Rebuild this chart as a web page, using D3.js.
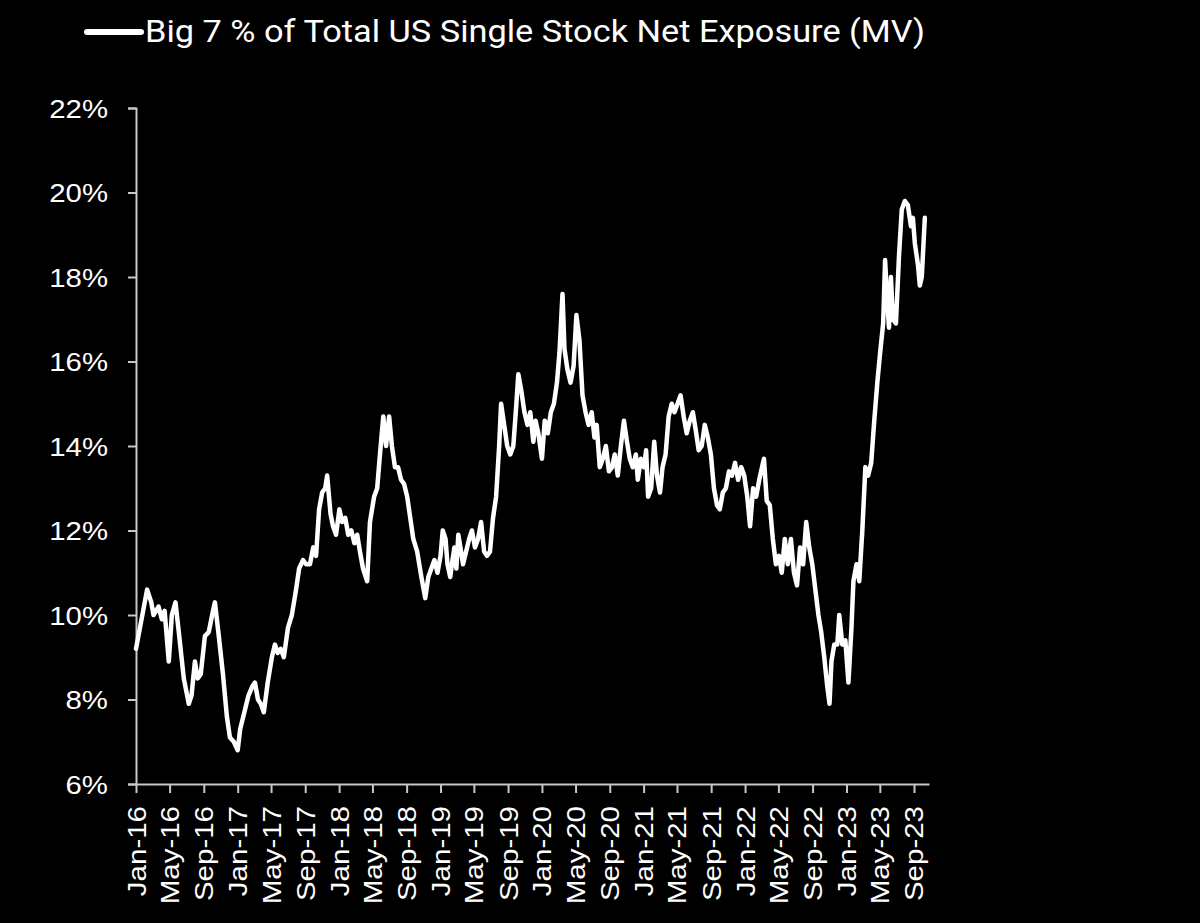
<!DOCTYPE html>
<html>
<head>
<meta charset="utf-8">
<script src="https://cdn.jsdelivr.net/npm/d3@7"></script>
<style>
  html, body { margin: 0; padding: 0; background: #000; }
  svg { display: block; }
</style>
</head>
<body>
<svg id="chart" width="1200" height="923"></svg>
<script>
const seriesName = "Big 7 % of Total US Single Stock Net Exposure (MV)";
const dates = [
"2016-01-01","2016-02-10","2016-02-25","2016-03-04","2016-03-22","2016-04-03","2016-04-13","2016-04-28","2016-05-09","2016-05-22",
"2016-06-03","2016-06-21","2016-07-09","2016-07-19","2016-07-31","2016-08-10","2016-08-21","2016-09-05","2016-09-19","2016-10-01",
"2016-10-11","2016-10-25","2016-11-09","2016-11-23","2016-12-04","2016-12-18","2017-01-01","2017-01-10","2017-01-25","2017-02-09",
"2017-02-22","2017-03-04","2017-03-15","2017-03-25","2017-04-05","2017-04-19","2017-05-04","2017-05-15","2017-05-25","2017-06-05",
"2017-06-16","2017-07-01","2017-07-15","2017-07-30","2017-08-10","2017-08-24","2017-09-04","2017-09-18","2017-09-30","2017-10-10",
"2017-10-21","2017-11-01","2017-11-12","2017-11-19","2017-12-01","2017-12-10","2017-12-21","2018-01-02","2018-01-12","2018-01-23",
"2018-02-03","2018-02-14","2018-02-25","2018-03-07","2018-03-17","2018-03-28","2018-04-12","2018-04-22","2018-05-07","2018-05-18",
"2018-05-28","2018-06-09","2018-06-19","2018-06-30","2018-07-10","2018-07-21","2018-08-01","2018-08-12","2018-08-23","2018-09-03",
"2018-09-14","2018-09-25","2018-10-09","2018-10-24","2018-11-07","2018-11-18","2018-11-29","2018-12-10","2018-12-21","2019-01-01",
"2019-01-09","2019-01-19","2019-01-26","2019-02-05","2019-02-13","2019-02-20","2019-02-27","2019-03-06","2019-03-16","2019-03-23",
"2019-04-03","2019-04-14","2019-04-24","2019-05-05","2019-05-16","2019-05-27","2019-06-07","2019-06-17","2019-06-28","2019-07-09",
"2019-07-20","2019-07-31","2019-08-07","2019-08-18","2019-08-29","2019-09-09","2019-09-20","2019-10-01","2019-10-08","2019-10-19",
"2019-10-30","2019-11-10","2019-11-20","2019-12-01","2019-12-09","2019-12-19","2020-01-01","2020-01-11","2020-01-22","2020-02-02",
"2020-02-13","2020-02-24","2020-03-04","2020-03-15","2020-03-22","2020-04-02","2020-04-13","2020-04-24","2020-05-04","2020-05-15",
"2020-05-26","2020-06-06","2020-06-17","2020-06-28","2020-07-08","2020-07-16","2020-07-27","2020-08-07","2020-08-18","2020-08-29",
"2020-09-09","2020-09-19","2020-09-30","2020-10-11","2020-10-22","2020-11-02","2020-11-12","2020-11-23","2020-12-04","2020-12-11",
"2020-12-22","2021-01-02","2021-01-10","2021-01-17","2021-01-28","2021-02-08","2021-02-18","2021-03-01","2021-03-10","2021-03-21",
"2021-04-01","2021-04-12","2021-04-22","2021-05-03","2021-05-14","2021-05-25","2021-06-05","2021-06-16","2021-06-27","2021-07-07",
"2021-07-18","2021-07-29","2021-08-09","2021-08-20","2021-08-31","2021-09-11","2021-09-22","2021-10-02","2021-10-13","2021-10-24",
"2021-11-04","2021-11-15","2021-11-26","2021-12-07","2021-12-18","2021-12-29","2022-01-09","2022-01-19","2022-01-30","2022-02-10",
"2022-02-21","2022-03-03","2022-03-10","2022-03-20","2022-03-31","2022-04-11","2022-04-22","2022-05-03","2022-05-13","2022-05-24",
"2022-06-04","2022-06-15","2022-06-26","2022-07-07","2022-07-18","2022-07-29","2022-08-09","2022-08-20","2022-08-31","2022-09-11",
"2022-09-22","2022-10-02","2022-10-13","2022-10-24","2022-11-01","2022-11-08","2022-11-18","2022-11-29","2022-12-06","2022-12-17",
"2022-12-28","2023-01-08","2023-01-19","2023-01-26","2023-02-06","2023-02-16","2023-02-27","2023-03-10","2023-03-20","2023-03-31",
"2023-04-11","2023-04-22","2023-05-02","2023-05-13","2023-05-20","2023-05-27","2023-06-03","2023-06-10","2023-06-17","2023-06-28",
"2023-07-09","2023-07-19","2023-07-30","2023-08-10","2023-08-21","2023-08-28","2023-09-04","2023-09-15","2023-09-22","2023-09-29",
"2023-10-10"
];
const values = [
9.2,10.6,10.3,10.0,10.2,9.9,10.1,8.9,10.0,10.3,
9.6,8.5,7.9,8.1,8.9,8.5,8.6,9.5,9.6,10.0,
10.3,9.5,8.6,7.6,7.1,7.0,6.8,7.3,7.7,8.1,
8.3,8.4,8.0,7.9,7.7,8.4,9.0,9.3,9.1,9.2,
9.0,9.7,10.0,10.6,11.1,11.3,11.2,11.2,11.6,11.4,
12.5,12.9,13.0,13.3,12.4,12.1,11.9,12.5,12.2,12.3,
11.9,12.0,11.7,11.9,11.5,11.1,10.8,12.2,12.8,13.0,
13.8,14.7,14.0,14.7,14.0,13.5,13.5,13.2,13.1,12.8,
12.3,11.8,11.5,10.9,10.4,10.9,11.1,11.3,11.0,11.4,
12.0,11.8,11.2,10.9,11.3,11.6,11.1,11.9,11.5,11.2,
11.5,11.8,12.0,11.6,11.8,12.2,11.5,11.4,11.5,12.3,
12.8,14.0,15.0,14.5,14.0,13.8,14.0,15.0,15.7,15.3,
14.8,14.5,14.8,14.1,14.6,14.3,13.7,14.6,14.3,14.8,
15.0,15.5,16.2,17.6,16.3,15.8,15.5,15.9,17.1,16.5,
15.2,14.8,14.5,14.8,14.2,14.5,13.5,13.7,14.0,13.4,
13.5,13.8,13.3,14.0,14.6,14.1,13.7,13.5,13.8,13.2,
13.7,13.5,13.9,12.8,13.0,14.1,13.3,12.9,13.5,13.8,
14.7,15.0,14.8,15.0,15.2,14.7,14.3,14.6,14.8,14.4,
13.9,14.0,14.5,14.2,13.8,13.0,12.6,12.5,12.9,13.0,
13.4,13.3,13.6,13.2,13.5,13.3,12.8,12.1,13.0,12.8,
13.2,13.5,13.7,12.7,12.6,11.8,11.2,11.4,11.0,11.8,
11.2,11.8,11.0,10.7,11.6,11.2,12.2,11.6,11.2,10.6,
10.0,9.6,9.0,8.3,7.9,8.9,9.3,9.3,10.0,9.3,
9.4,8.4,9.7,10.8,11.2,10.8,12.0,13.5,13.3,13.6,
14.6,15.5,16.2,16.9,18.4,17.5,16.8,18.0,17.0,16.9,
18.5,19.6,19.8,19.7,19.2,19.4,18.8,18.3,17.8,18.0,
19.4
];
const yTicks = [6, 8, 10, 12, 14, 16, 18, 20, 22];
const xStart = "2016-01-01";
const xEnd = "2023-10-25";

const parse = d3.timeParse("%Y-%m-%d");
const data = dates.map((d, i) => ({ date: parse(d), value: values[i] }));

const svg = d3.select("#chart");
const mLeft = 136, mRight = 929, mTop = 108, mBottom = 784;

const x = d3.scaleTime().domain([parse(xStart), parse(xEnd)]).range([mLeft, mRight]);
const y = d3.scaleLinear().domain([6, 22]).range([mBottom, mTop]);

const axisColor = "#c8c8c8";
const titleFont = "Roboto, 'Liberation Sans', Arial, sans-serif";
const tickFont = "'Liberation Sans', Arial, sans-serif";

// Y axis
const yStretch = 1.13;
const yAxis = svg.append("g")
  .attr("transform", `translate(${mLeft},0)`)
  .call(d3.axisLeft(y).tickValues(yTicks).tickFormat(d => d + "%").tickSize(8));
yAxis.select(".domain").attr("stroke", axisColor).attr("stroke-width", 2);
yAxis.selectAll(".tick line").attr("stroke", axisColor).attr("stroke-width", 2);
yAxis.selectAll(".tick text").attr("fill", "#fff").attr("font-size", 26).attr("font-family", tickFont)
  .attr("x", 0).attr("dy", "0.36em")
  .attr("transform", `translate(-28,0) scale(${yStretch},1)`);

// X axis
const xStretch = 1.18;
const xTicks = d3.timeMonth.every(4).range(parse(xStart), parse(xEnd));
const xAxis = svg.append("g")
  .attr("transform", `translate(0,${mBottom})`)
  .call(d3.axisBottom(x).tickValues(xTicks).tickFormat(d3.timeFormat("%b-%y")).tickSize(9).tickSizeOuter(0));
xAxis.select(".domain").attr("stroke", axisColor).attr("stroke-width", 2);
xAxis.selectAll(".tick line").attr("stroke", axisColor).attr("stroke-width", 2);
xAxis.selectAll(".tick text")
  .attr("fill", "#fff").attr("font-size", 25).attr("font-family", tickFont)
  .attr("transform", `rotate(-90) scale(${xStretch},1)`)
  .attr("text-anchor", "end")
  .attr("x", -22 / xStretch).attr("y", 0).attr("dy", "0.36em");

// Line
const line = d3.line().x(d => x(d.date)).y(d => y(d.value));
svg.append("path")
  .datum(data)
  .attr("d", line)
  .attr("fill", "none")
  .attr("stroke", "#fff")
  .attr("stroke-width", 4.5)
  .attr("stroke-linejoin", "round")
  .attr("stroke-linecap", "round");

// Legend
svg.append("line")
  .attr("x1", 87).attr("x2", 141).attr("y1", 32).attr("y2", 32)
  .attr("stroke", "#fff").attr("stroke-width", 6).attr("stroke-linecap", "round");
svg.append("text")
  .attr("x", 145).attr("y", 42)
  .attr("fill", "#fff").attr("font-size", 32).attr("font-family", titleFont)
  .attr("textLength", 780).attr("lengthAdjust", "spacingAndGlyphs")
  .text(seriesName);
</script>
</body>
</html>
